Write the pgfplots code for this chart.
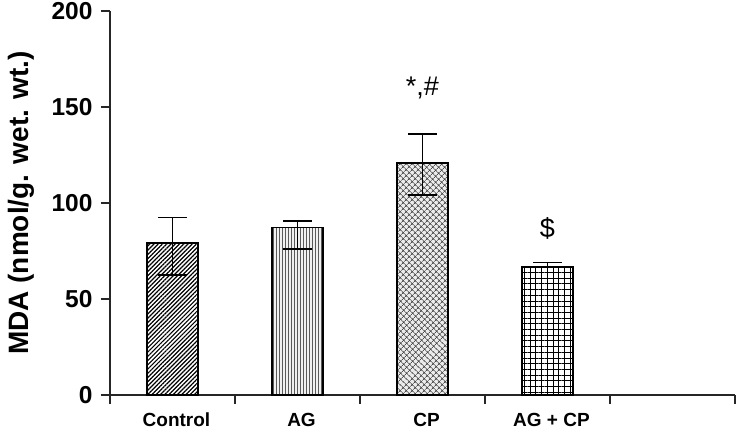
\documentclass[border=0pt]{standalone}
\usepackage{fontspec}
\setmainfont{Liberation Sans}
\usepackage{pgfplots}
\pgfplotsset{compat=1.18}
\usetikzlibrary{patterns.meta}
\begin{document}
\begin{tikzpicture}
\useasboundingbox (-110pt,-37pt) rectangle (626pt,395pt);
\begin{axis}[
  at={(0pt,0pt)}, anchor=south west,
  scale only axis, width=625pt, height=384pt,
  xmin=-0.5, xmax=4.5, ymin=0, ymax=200,
  axis x line*=bottom, axis y line*=left,
  axis line style={line width=1.6pt, black!85},
  xtick={-0.5,0.5,1.5,2.5,3.5,4.5}, xticklabels={},
  extra x ticks={0,1,2,3},
  extra x tick labels={Control,AG,CP,AG + CP},
  extra x tick style={major tick length=0pt, tick label style={font=\fontsize{19}{20}\selectfont\bfseries, text height=14pt, text depth=0pt, yshift=-14pt, xshift=4pt}},
  ytick={0,50,100,150,200},
  tick align=outside, major tick length=9pt,
  tick style={line width=1.5pt, black!85},
  /pgf/number format/assume math mode=true,
  yticklabel style={font=\fontsize{24.5}{28}\selectfont\bfseries, xshift=-5pt},
  ylabel={MDA (nmol/g. wet. wt.)},
  ylabel style={font=\fontsize{28}{30}\selectfont\bfseries},
  ylabel shift=10pt,
  ybar, bar width=51pt, bar shift=0pt,
  error bars/y dir=both, error bars/y explicit,
  error bars/error bar style={line width=1.6pt, black},
  error bars/error mark options={rotate=90, mark size=14.5pt, line width=1.6pt, black},
]
\addplot[draw=black, line width=1.7pt, fill=white, postaction={pattern={Lines[angle=45, distance=3pt, line width=1.2pt]}}]
  coordinates {(0,79) += (0,13.5) -= (0,16.5)};
\addplot[draw=black, line width=1.7pt, fill=gray!12, postaction={pattern={Lines[angle=90, distance=3pt, line width=0.7pt]}, pattern color=black!65}]
  coordinates {(1,87.3) += (0,3.4) -= (0,11.4)};
\addplot[draw=black, line width=1.7pt, fill=gray!15, postaction={pattern={Hatch[angle=45, distance=4pt, line width=0.7pt]}, pattern color=black!70}]
  coordinates {(2,120.7) += (0,15.1) -= (0,16.5)};
\addplot[draw=black, line width=1.7pt, fill=white, postaction={pattern={Hatch[angle=0, distance=5.7pt, line width=0.8pt]}}]
  coordinates {(3,66.5) += (0,2.5) -= (0,5.9)};
\node[font=\fontsize{27}{28}\selectfont] at (axis cs:2,160) {*,\#};
\node[font=\fontsize{27}{28}\selectfont] at (axis cs:3,87) {\$};
\end{axis}
\end{tikzpicture}
\end{document}
